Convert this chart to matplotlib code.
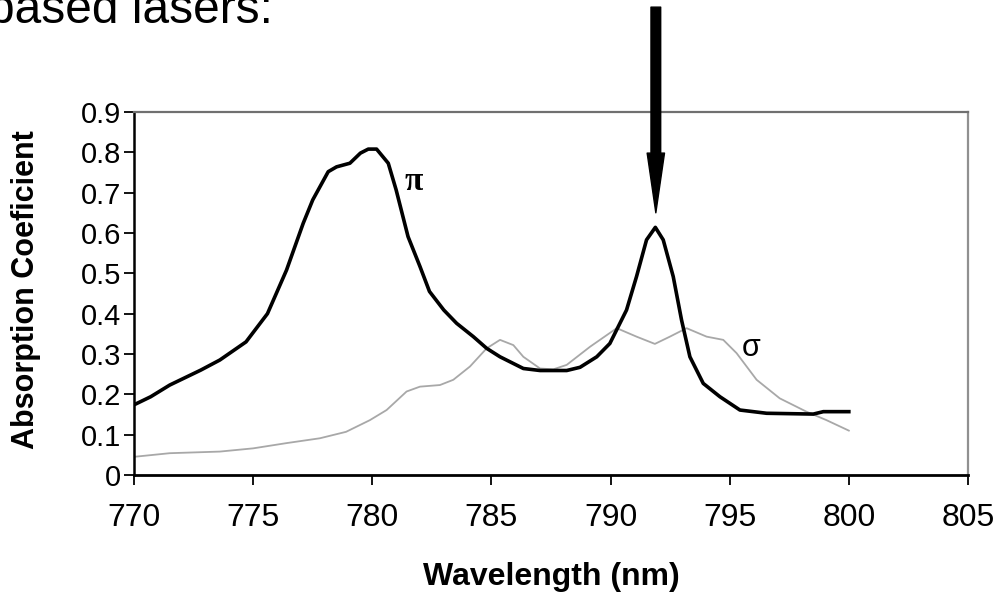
import matplotlib.pyplot as plt

# pi-polarised absorption (black curve)
pi_wl = [770.0, 770.7, 771.5, 772.8, 773.6, 774.7, 775.6, 776.4, 777.1, 777.5,
         778.15, 778.5, 779.06, 779.5, 779.83, 780.18, 780.67, 781.0, 781.5, 782.0,
         782.4, 783.0, 783.54, 784.24, 784.8, 785.36, 786.34, 787.04, 788.16, 788.72,
         789.42, 789.97, 790.67, 791.09, 791.51, 791.88, 792.21, 792.63, 792.98, 793.33,
         793.89, 794.59, 795.43, 796.55, 798.51, 798.93, 800.0]
pi_abs = [0.174, 0.194, 0.223, 0.26, 0.285, 0.33, 0.40, 0.508, 0.624, 0.682,
          0.752, 0.764, 0.773, 0.798, 0.808, 0.808, 0.773, 0.707, 0.591, 0.517,
          0.455, 0.409, 0.376, 0.343, 0.314, 0.293, 0.264, 0.259, 0.259, 0.267,
          0.293, 0.326, 0.409, 0.492, 0.583, 0.614, 0.583, 0.492, 0.384, 0.293,
          0.227, 0.194, 0.161, 0.153, 0.151, 0.157, 0.157]

# sigma-polarised absorption (grey curve)
sigma_wl = [770.0, 771.5, 773.6, 775.0, 776.4, 777.8, 778.9, 779.9, 780.6, 781.44,
            782.0, 782.84, 783.4, 784.1, 784.8, 785.36, 785.92, 786.34, 787.04, 787.6,
            788.16, 789.14, 790.26, 791.09, 791.86, 792.49, 793.19, 794.03, 794.73, 795.29,
            796.13, 797.1, 798.22, 799.06, 800.0]
sigma_abs = [0.045, 0.054, 0.058, 0.066, 0.079, 0.091, 0.107, 0.136, 0.161, 0.207,
             0.219, 0.223, 0.236, 0.269, 0.314, 0.335, 0.322, 0.293, 0.264, 0.262,
             0.273, 0.318, 0.364, 0.343, 0.325, 0.343, 0.364, 0.343, 0.335, 0.302,
             0.236, 0.190, 0.157, 0.136, 0.110]

x_ticks = [770, 775, 780, 785, 790, 795, 800, 805]
y_ticks = [0, 0.1, 0.2, 0.3, 0.4, 0.5, 0.6, 0.7, 0.8, 0.9]
y_tick_labels = ['0', '0.1', '0.2', '0.3', '0.4', '0.5', '0.6', '0.7', '0.8', '0.9']

fig = plt.figure(figsize=(9.98, 5.97), dpi=100)
ax = fig.add_axes([0.1343, 0.2044, 0.8356, 0.608])

ax.plot(sigma_wl, sigma_abs, color='#a8a8a8', lw=1.3)
ax.plot(pi_wl, pi_abs, color='black', lw=2.6)

ax.set_xlim(770, 805)
ax.set_ylim(0, 0.9)
ax.set_xticks(x_ticks)
ax.set_yticks(y_ticks)
ax.set_yticklabels(y_tick_labels, family='Liberation Sans', fontsize=21)
ax.set_xticklabels([str(t) for t in x_ticks], family='Liberation Sans', fontsize=23)
ax.tick_params(axis='x', length=7.5, width=1.3, pad=13)
ax.tick_params(axis='y', length=7.5, width=1.3, pad=2)

ax.spines['left'].set_linewidth(1.8)
ax.spines['bottom'].set_linewidth(2.0)
ax.spines['top'].set_color('#707070')
ax.spines['top'].set_linewidth(1.6)
ax.spines['right'].set_color('#909090')
ax.spines['right'].set_linewidth(1.6)

ax.text(781.72, 0.727, 'π', family='Liberation Serif', fontweight='bold', fontsize=24,
        ha='center', va='center')
ax.text(795.92, 0.314, 'σ', family='Liberation Sans', fontsize=22,
        ha='center', va='center')

ax.annotate('', xy=(791.9, 0.65), xytext=(791.9, 1.16),
            arrowprops=dict(width=7, headwidth=12.5, headlength=43, shrink=0,
                            color='black'),
            annotation_clip=False)

fig.text(26 / 998, 1 - 290 / 597, 'Absorption Coeficient', rotation=90,
         family='Liberation Sans', fontweight='bold', fontsize=22,
         ha='center', va='center')
fig.text(551 / 998, 1 - 577 / 597, 'Wavelength (nm)', family='Liberation Sans',
         fontweight='bold', fontsize=23, ha='center', va='center')
fig.text(-0.012, 1 - 23 / 597, 'based lasers:', family='Liberation Sans',
         fontsize=34.5, ha='left', va='baseline')

fig.savefig('out.png', dpi=100)
